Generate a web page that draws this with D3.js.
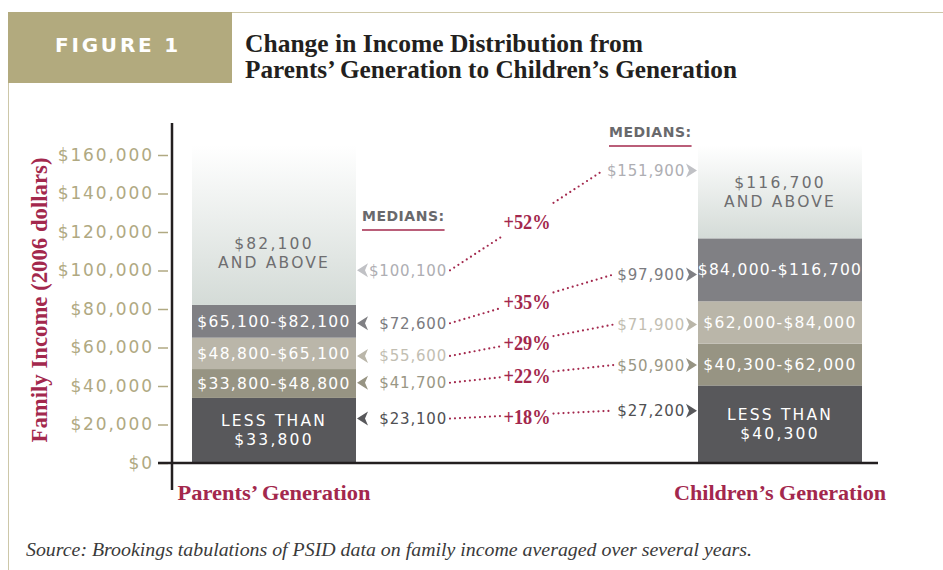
<!DOCTYPE html>
<meta charset="utf-8">
<style>
  body { margin: 0; background: #fff; }
  svg { display: block; }
</style>
<svg width="943" height="570"></svg>
<script src="https://cdn.jsdelivr.net/npm/d3@7"></script>
<script>
// data
var generations = ["Parents' Generation", "Children's Generation"];
var parentBounds = [0, 33800, 48800, 65100, 82100];
var childBounds = [0, 40300, 62000, 84000, 116700];
var parentLabels = [["LESS THAN", "$33,800"], ["$33,800-$48,800"], ["$48,800-$65,100"], ["$65,100-$82,100"], ["$82,100", "AND ABOVE"]];
var childLabels = [["LESS THAN", "$40,300"], ["$40,300-$62,000"], ["$62,000-$84,000"], ["$84,000-$116,700"], ["$116,700", "AND ABOVE"]];
var parentMedians = [23100, 41700, 55600, 72600, 100100];
var childMedians = [27200, 50900, 71900, 97900, 151900];
var growth = ["+18%", "+22%", "+29%", "+35%", "+52%"];
var yTicks = [0, 20000, 40000, 60000, 80000, 100000, 120000, 140000, 160000];

var segColors = ["#58585b", "#979483", "#bab6a9", "#808084", "url(#fade)"];
var medColors = ["#505053", "#9a9785", "#c2beb2", "#7b7b7f", "#aeaeb3"];
var arrowColors = ["#58585b", "#979483", "#bab6a9", "#808084", "#c0c1c5"];
var labelColors = ["#fff", "#fff", "#fff", "#fff", "#6e6e70"];

var sans = "DejaVu Sans", serif = "Liberation Serif";
var crimson = "#a3284d", tan = "#b0a982";

var svg = d3.select("svg");
var defs = svg.append("defs");
var grad = defs.append("linearGradient").attr("id", "fade")
    .attr("x1", 0).attr("y1", 0).attr("x2", 0).attr("y2", 1);
grad.append("stop").attr("offset", "0%").attr("stop-color", "#ffffff");
grad.append("stop").attr("offset", "100%").attr("stop-color", "#d4dbd7");

// header
svg.append("rect").attr("x", 8).attr("y", 12).attr("width", 224).attr("height", 71).attr("fill", "#b2aa7e");
svg.append("line").attr("x1", 232).attr("x2", 943).attr("y1", 12.5).attr("y2", 12.5).attr("stroke", "#cdc7a8");
svg.append("line").attr("x1", 8.5).attr("x2", 8.5).attr("y1", 83).attr("y2", 570).attr("stroke", "#cdc7a8");
svg.append("text").attr("x", 118).attr("y", 52).attr("text-anchor", "middle")
    .style("font", "bold 20px " + sans).style("letter-spacing", "2.8px").attr("fill", "#fff").text("FIGURE 1");
svg.append("text").attr("x", 245).attr("y", 52).attr("textLength", 398).attr("lengthAdjust", "spacingAndGlyphs")
    .style("font", "bold 25px " + serif).attr("fill", "#231f20").text("Change in Income Distribution from");
svg.append("text").attr("x", 245).attr("y", 78).attr("textLength", 492).attr("lengthAdjust", "spacingAndGlyphs")
    .style("font", "bold 25px " + serif).attr("fill", "#231f20").text("Parents\u2019 Generation to Children\u2019s Generation");

// scales
var y = d3.scaleLinear().domain([0, 160000]).range([463, 155]);
var x = d3.scalePoint().domain(generations).range([274, 780]);
var barW = 164, barTop = 165000;

// y axis ticks
var ax = svg.append("g").attr("transform", "translate(168,0)")
    .call(d3.axisLeft(y).tickValues(yTicks).tickSize(10).tickPadding(4)
      .tickFormat(function(d) { return "$" + d3.format(",")(d); }));
ax.select(".domain").remove();
ax.selectAll(".tick line").attr("stroke", tan).attr("stroke-width", 1.5);
ax.selectAll(".tick text").attr("fill", tan).style("font", "17px " + sans).style("letter-spacing", "1.9px");

svg.append("text").attr("transform", "translate(47,300) rotate(-90)").attr("text-anchor", "middle")
    .attr("textLength", 285).attr("lengthAdjust", "spacingAndGlyphs")
    .style("font", "bold 23px " + serif).attr("fill", crimson).text("Family Income (2006 dollars)");

// bars
function drawBar(gen, bounds, labels, topShift) {
  var x0 = x(gen) - barW / 2;
  var segs = bounds.map(function(b, i) { return { lo: b, hi: i < bounds.length - 1 ? bounds[i + 1] : barTop, i: i }; });
  var g = svg.append("g");
  g.selectAll("rect").data(segs).join("rect")
      .attr("x", x0).attr("width", barW)
      .attr("y", function(d) { return y(d.hi); })
      .attr("height", function(d) { return y(d.lo) - y(d.hi); })
      .attr("fill", function(d) { return segColors[d.i]; });
  segs.forEach(function(d) {
    var lines = labels[d.i];
    var cy = (y(d.lo) + y(d.hi)) / 2 + (d.i === segs.length - 1 ? topShift : 0);
    var t = g.append("text").attr("text-anchor", "middle").attr("fill", labelColors[d.i])
        .style("font", "15.5px " + sans).style("letter-spacing", lines.length > 1 ? "2.2px" : "1.3px");
    lines.forEach(function(s, k) {
      t.append("tspan").attr("x", x(gen)).attr("y", cy + 5.5 + (k - (lines.length - 1) / 2) * 19).text(s);
    });
  });
}
drawBar(generations[0], parentBounds, parentLabels, 28);
drawBar(generations[1], childBounds, childLabels, 0);

// axes lines
svg.append("line").attr("x1", 172).attr("x2", 172).attr("y1", 123).attr("y2", 490).attr("stroke", "#231f20").attr("stroke-width", 2.5);
svg.append("line").attr("x1", 158).attr("x2", 878).attr("y1", y(0)).attr("y2", y(0)).attr("stroke", "#231f20").attr("stroke-width", 2.5);

// medians headers
function mediansHead(xl, yb) {
  var t = svg.append("text").attr("x", xl).attr("y", yb).style("font", "bold 14px " + sans)
      .style("letter-spacing", "0.5px").attr("fill", "#69696c").text("MEDIANS:");
  var w = t.node().getComputedTextLength();
  svg.append("line").attr("x1", xl).attr("x2", xl + w).attr("y1", yb + 9).attr("y2", yb + 9).attr("stroke", crimson).attr("stroke-width", 1.5);
}
mediansHead(362, 221);
mediansHead(609, 137);

var leftBarR = x(generations[0]) + barW / 2, rightBarL = x(generations[1]) - barW / 2;
var leftTextEnd = leftBarR + 91, rightTextEnd = rightBarL - 13;
var midX = (leftBarR + rightBarL) / 2;
var fmt = function(v) { return "$" + d3.format(",")(v); };

parentMedians.forEach(function(v, i) {
  var yy = y(v), yR = y(childMedians[i]);
  // arrows
  svg.append("path").attr("fill", arrowColors[i])
      .attr("d", "M" + (leftBarR + 1) + "," + yy + "L" + (leftBarR + 12) + "," + (yy - 7) + "L" + (leftBarR + 9) + "," + yy + "L" + (leftBarR + 12) + "," + (yy + 7) + "Z");
  svg.append("path").attr("fill", arrowColors[i])
      .attr("d", "M" + (rightBarL - 1) + "," + yR + "L" + (rightBarL - 12) + "," + (yR - 7) + "L" + (rightBarL - 9) + "," + yR + "L" + (rightBarL - 12) + "," + (yR + 7) + "Z");
  svg.append("text").attr("x", leftTextEnd).attr("y", yy + 5.5).attr("text-anchor", "end")
      .style("font", "15px " + sans).style("letter-spacing", "0.8px").attr("fill", medColors[i]).text(fmt(v));
  var rt = svg.append("text").attr("x", rightTextEnd).attr("y", yR + 5.5).attr("text-anchor", "end")
      .style("font", "15px " + sans).style("letter-spacing", "0.8px").attr("fill", medColors[i]).text(fmt(childMedians[i]));
  var rStart = rightTextEnd - rt.node().getComputedTextLength() - 4;
  var x1 = leftTextEnd + 3;
  var ly = d3.scaleLinear().domain([x1, rStart]).range([yy, yR]);
  var pt = svg.append("text").attr("x", midX).attr("y", ly(midX) + 9).attr("text-anchor", "middle")
      .attr("textLength", 47).attr("lengthAdjust", "spacingAndGlyphs")
      .style("font", "bold 22px " + serif).attr("fill", crimson).text(growth[i]);
  var hw = 47 / 2 + 3;
  [[x1, midX - hw], [midX + hw, rStart]].forEach(function(s) {
    svg.append("line").attr("x1", s[0]).attr("y1", ly(s[0])).attr("x2", s[1]).attr("y2", ly(s[1]))
        .attr("stroke", crimson).attr("stroke-width", 2.2).attr("stroke-linecap", "round").attr("stroke-dasharray", "0,5");
  });
});

// category labels
svg.selectAll(".cat").data(generations).join("text").attr("class", "cat")
    .attr("x", function(d) { return x(d); }).attr("y", 500).attr("text-anchor", "middle")
    .style("font", "bold 22px " + serif).attr("fill", crimson)
    .attr("textLength", function(d, i) { return i === 0 ? 193 : 212; }).attr("lengthAdjust", "spacingAndGlyphs")
    .text(function(d) { return d.replace("'", "\u2019"); });

svg.append("text").attr("x", 26).attr("y", 556).attr("textLength", 726).attr("lengthAdjust", "spacingAndGlyphs")
    .style("font", "italic 19px " + serif).attr("fill", "#3a3a3a")
    .text("Source: Brookings tabulations of PSID data on family income averaged over several years.");
</script>
